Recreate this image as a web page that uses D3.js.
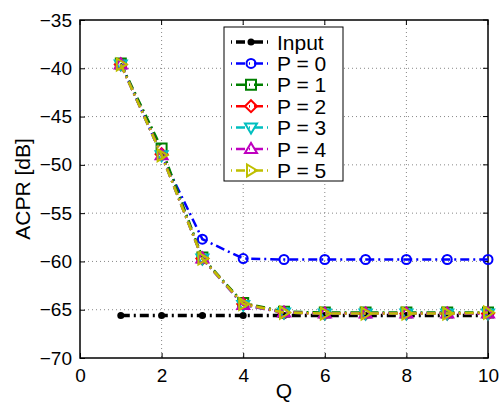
<!DOCTYPE html>
<html>
<head>
<meta charset="utf-8">
<script src="https://cdn.jsdelivr.net/npm/d3@7"></script>
<style>
body { margin:0; background:#fff; }
text { font-family: "Liberation Sans", Arial, sans-serif; }
</style>
</head>
<body>
<svg id="chart" width="501" height="402"></svg>
<script>
// data
var qValues = [1,2,3,4,5,6,7,8,9,10];
var inputAcpr = [-65.6,-65.6,-65.6,-65.6,-65.6,-65.6,-65.6,-65.6,-65.6,-65.6];
var p0Acpr = [-39.5,-49.0,-57.7,-59.7,-59.8,-59.8,-59.8,-59.8,-59.8,-59.8];
var p1Acpr = [-39.5,-48.3,-59.6,-64.3,-65.2,-65.3,-65.3,-65.3,-65.3,-65.3];
var p2Acpr = [-39.6,-48.9,-59.7,-64.4,-65.3,-65.4,-65.4,-65.4,-65.4,-65.4];
var p3Acpr = [-39.6,-49.0,-59.7,-64.5,-65.3,-65.4,-65.4,-65.4,-65.4,-65.4];
var p4Acpr = [-39.6,-49.0,-59.7,-64.5,-65.3,-65.4,-65.4,-65.4,-65.4,-65.4];
var p5Acpr = [-39.6,-49.0,-59.7,-64.4,-65.3,-65.4,-65.4,-65.4,-65.4,-65.3];
var seriesNames = ["Input","P = 0","P = 1","P = 2","P = 3","P = 4","P = 5"];
var xTicks = [0,2,4,6,8,10];
var yTicks = [-70,-65,-60,-55,-50,-45,-40,-35];

var series = [
	{name: seriesNames[0], vals: inputAcpr, color: "#000000", mark: "dot", w: 3.5},
	{name: seriesNames[1], vals: p0Acpr, color: "#0000ff", mark: "circle", w: 2.5},
	{name: seriesNames[2], vals: p1Acpr, color: "#008000", mark: "square", w: 2.5},
	{name: seriesNames[3], vals: p2Acpr, color: "#ff0000", mark: "diamond", w: 2.5},
	{name: seriesNames[4], vals: p3Acpr, color: "#00bfbf", mark: "tridown", w: 2.5},
	{name: seriesNames[5], vals: p4Acpr, color: "#bf00bf", mark: "triup", w: 2.5},
	{name: seriesNames[6], vals: p5Acpr, color: "#bfbf00", mark: "triright", w: 2.5}
];

var L = 80, R = 488, T = 20, B = 358;
var svg = d3.select("#chart");
var x = d3.scaleLinear().domain([0,10]).range([L,R]);
var y = d3.scaleLinear().domain([-70,-35]).range([B,T]);

// grid
var grid = svg.append("g");
grid.selectAll(".gx").data(xTicks.slice(1,-1)).enter().append("line")
	.attr("x1", d => x(d)).attr("x2", d => x(d)).attr("y1", T).attr("y2", B)
	.attr("stroke", "#888").attr("stroke-width", 1).attr("stroke-dasharray", "1,3");
grid.selectAll(".gy").data(yTicks.slice(1,-1)).enter().append("line")
	.attr("y1", d => y(d)).attr("y2", d => y(d)).attr("x1", L).attr("x2", R)
	.attr("stroke", "#888").attr("stroke-width", 1).attr("stroke-dasharray", "1,3");

// axes
var xAxis = d3.axisBottom(x).tickValues(xTicks).tickSizeInner(-5).tickSizeOuter(0).tickPadding(8).tickFormat(d3.format("d"));
var yAxis = d3.axisLeft(y).tickValues(yTicks).tickSizeInner(-5).tickSizeOuter(0).tickPadding(8)
	.tickFormat(d => d < 0 ? "\u2212" + Math.abs(d) : d);
var gx = svg.append("g").attr("transform", "translate(0," + B + ")").call(xAxis);
var gy = svg.append("g").attr("transform", "translate(" + L + ",0)").call(yAxis);
[gx, gy].forEach(g => {
	g.select(".domain").remove();
	g.selectAll("text").attr("font-size", 19).attr("fill", "#000").style("font-family", "Liberation Sans, Arial, sans-serif");
	g.selectAll("line").attr("stroke", "#000");
});
gx.selectAll("text").attr("dy", "0.85em");
// right/top tick marks
svg.append("g").selectAll("line").data(xTicks).enter().append("line")
	.attr("x1", d => x(d)).attr("x2", d => x(d)).attr("y1", T).attr("y2", T+5).attr("stroke", "#000");
svg.append("g").selectAll("line").data(yTicks).enter().append("line")
	.attr("y1", d => y(d)).attr("y2", d => y(d)).attr("x1", R).attr("x2", R-5).attr("stroke", "#000");
svg.append("rect").attr("x", L).attr("y", T).attr("width", R-L).attr("height", B-T)
	.attr("fill", "none").attr("stroke", "#000").attr("stroke-width", 1.5);

svg.append("text").attr("x", (L+R)/2).attr("y", 398).attr("text-anchor", "middle")
	.attr("font-size", 21).text("Q");
svg.append("text").attr("transform", "translate(30," + ((T+B)/2) + ") rotate(-90)")
	.attr("text-anchor", "middle").attr("font-size", 21).text("ACPR [dB]");

// markers
function drawMarker(g, kind, cx, cy, color) {
	var s = 5;
	if (kind === "dot") {
		g.append("circle").attr("cx", cx).attr("cy", cy).attr("r", 3.5).attr("fill", color);
	} else if (kind === "circle") {
		g.append("circle").attr("cx", cx).attr("cy", cy).attr("r", 4.5)
			.attr("fill", "none").attr("stroke", color).attr("stroke-width", 2);
	} else {
		var pts;
		if (kind === "square") pts = [[-s,-s],[s,-s],[s,s],[-s,s]];
		if (kind === "diamond") pts = [[0,-6],[6,0],[0,6],[-6,0]];
		if (kind === "tridown") pts = [[-6,-4],[6,-4],[0,6]];
		if (kind === "triup") pts = [[-6,4],[6,4],[0,-6]];
		if (kind === "triright") pts = [[-4,-6],[-4,6],[6,0]];
		g.append("polygon").attr("points", pts.map(p => (cx+p[0]) + "," + (cy+p[1])).join(" "))
			.attr("fill", "none").attr("stroke", color).attr("stroke-width", 2);
	}
}

var line = d3.line().x((d,i) => x(qValues[i])).y(d => y(d));
series.forEach(function(s) {
	var g = svg.append("g");
	g.append("path").datum(s.vals).attr("d", line).attr("fill", "none")
		.attr("stroke", s.color).attr("stroke-width", s.w)
		.attr("stroke-dasharray", "9,4,2,4");
	s.vals.forEach((v,i) => drawMarker(g, s.mark, x(qValues[i]), y(v), s.color));
});

// legend
var lg = svg.append("g");
lg.append("rect").attr("x", 224).attr("y", 27).attr("width", 119).attr("height", 154)
	.attr("fill", "#fff").attr("stroke", "#000").attr("stroke-width", 1);
series.forEach(function(s, i) {
	var cy = 42 + i * 21.4;
	lg.append("line").attr("x1", 231).attr("x2", 272).attr("y1", cy).attr("y2", cy)
		.attr("stroke", s.color).attr("stroke-width", s.w).attr("stroke-dasharray", "1,4,9,4");
	drawMarker(lg, s.mark, 251, cy, s.color);
	lg.append("text").attr("x", 277).attr("y", cy).attr("dy", "0.36em")
		.attr("font-size", 21).text(s.name);
});
</script>
</body>
</html>
